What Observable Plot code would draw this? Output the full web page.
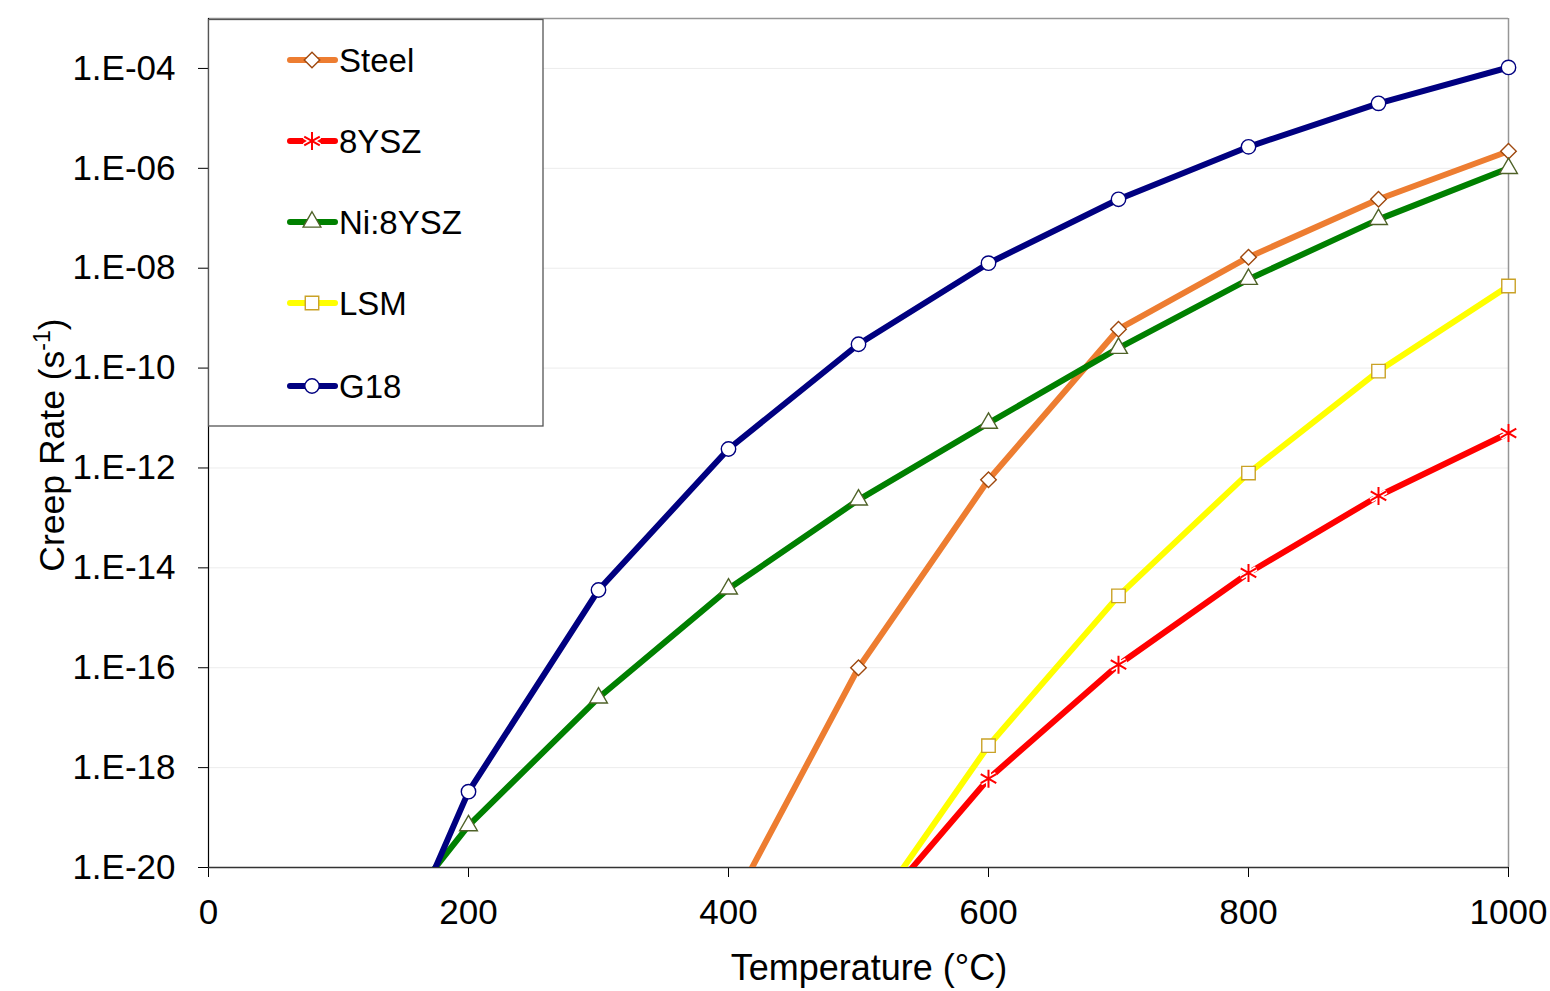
<!DOCTYPE html>
<html>
<head>
<meta charset="utf-8">
<script src="https://cdn.jsdelivr.net/npm/d3@7"></script>
<script src="https://cdn.jsdelivr.net/npm/@observablehq/plot@0.6"></script>
<style>
  html, body { margin: 0; padding: 0; background: #fff; }
  #chart { position: relative; width: 1550px; height: 991px; overflow: hidden; }
</style>
</head>
<body>
<div id="chart"></div>
<script>
// ---- data ----
const temperatures = [100, 200, 300, 400, 500, 600, 700, 800, 900, 1000];
const steel   = [null, null, null, 1.3e-21, 1.0e-16, 5.8e-13, 6.0e-10, 1.66e-8, 2.4e-7, 2.2e-6];
const ysz8    = [null, null, null, null, 5.5e-22, 6.0e-19, 1.15e-16, 7.9e-15, 2.75e-13, 5.0e-12];
const niYsz8  = [3.5e-23, 6.9e-20, 2.5e-17, 3.8e-15, 2.3e-13, 7.9e-12, 2.5e-10, 6.0e-9, 9.5e-8, 1.0e-6];
const lsm     = [null, null, null, null, 5.1e-22, 2.75e-18, 2.75e-15, 7.9e-13, 8.7e-11, 4.4e-9];
const g18     = [3.5e-25, 3.3e-19, 3.6e-15, 2.4e-12, 3.0e-10, 1.26e-8, 2.4e-7, 2.7e-6, 2.0e-5, 1.05e-4];

const seriesNames = ["Steel", "8YSZ", "Ni:8YSZ", "LSM", "G18"];
const xTicks = [0, 200, 400, 600, 800, 1000];
const yTicks = [1e-20, 1e-18, 1e-16, 1e-14, 1e-12, 1e-10, 1e-8, 1e-6, 1e-4];

const styles = {
  "Steel":   {line: "#ED7D31", symbol: "square",   rotate: 45, r: 6.2, fill: "#fff", stroke: "#9E480E"},
  "8YSZ":    {line: "#FF0000", symbol: "asterisk", rotate: 0,  r: 8.5, fill: "none", stroke: "#FF0000"},
  "Ni:8YSZ": {line: "#008000", symbol: "triangle", rotate: 0,  r: 6.6, fill: "#fff", stroke: "#4F6228"},
  "LSM":     {line: "#FFFF00", symbol: "square",   rotate: 0,  r: 7.6, fill: "#fff", stroke: "#C9A227"},
  "G18":     {line: "#000080", symbol: "circle",   rotate: 0,  r: 7.2, fill: "#fff", stroke: "#000080"}
};

const valuesBySeries = {"Steel": steel, "8YSZ": ysz8, "Ni:8YSZ": niYsz8, "LSM": lsm, "G18": g18};
const rows = [];
for (const s of seriesNames) {
  valuesBySeries[s].forEach((v, i) => rows.push({series: s, t: temperatures[i], v}));
}

const yMin = 1e-20, yMax = 1e-3;
const fmtY = d => "1.E-" + String(Math.round(-Math.log10(d))).padStart(2, "0");

const lineMarks = seriesNames.map(s =>
  Plot.line(rows.filter(d => d.series === s && d.v != null), {
    x: "t", y: "v", stroke: styles[s].line, strokeWidth: 6,
    strokeLinejoin: "round", clip: true
  })
);
const dotMarks = [];
for (const s of seriesNames) {
  const st = styles[s];
  const data = rows.filter(d => d.series === s && d.v != null && d.v >= yMin && d.v <= yMax);
  if (st.symbol === "asterisk") {
    dotMarks.push(Plot.dot(data, {x: "t", y: "v", symbol: "asterisk", r: st.r, stroke: "#fff", strokeWidth: 5, fill: "none"}));
    dotMarks.push(Plot.dot(data, {x: "t", y: "v", symbol: "asterisk", r: st.r, stroke: st.stroke, strokeWidth: 2, fill: "none"}));
  } else {
    dotMarks.push(Plot.dot(data, {x: "t", y: "v", symbol: st.symbol, rotate: st.rotate, r: st.r,
      fill: st.fill, stroke: st.stroke, strokeWidth: 1.4}));
  }
}

const plot = Plot.plot({
  width: 1550,
  height: 991,
  marginLeft: 208,
  marginRight: 42,
  marginTop: 18,
  marginBottom: 124,
  style: {fontFamily: "'Liberation Sans', Arial, sans-serif", fontSize: "35px", color: "#000", background: "#fff"},
  x: {domain: [0, 1000]},
  y: {type: "log", domain: [yMin, yMax]},
  marks: [
    Plot.ruleY(yTicks.slice(1), {stroke: "#ececec", strokeWidth: 1}),
    Plot.ruleY([yMax], {stroke: "#969696", strokeWidth: 1.5}),
    Plot.ruleX([1000], {stroke: "#969696", strokeWidth: 1.5}),
    Plot.axisY({ticks: yTicks, tickFormat: fmtY, tickSize: 10, tickPadding: 23, label: null, fontSize: 35, stroke: "#000"}),
    Plot.axisX({ticks: xTicks, tickFormat: d => String(d), tickSize: 10, tickPadding: 22, label: null, fontSize: 35, stroke: "#000"}),
    Plot.ruleX([0], {stroke: "#000", strokeWidth: 1.2}),
    Plot.ruleY([yMin], {stroke: "#333", strokeWidth: 1.5}),
    ...lineMarks,
    ...dotMarks
  ]
});

document.getElementById("chart").appendChild(plot);

// ---- axis titles and legend ----
const svg = d3.select(plot);
const font = "'Liberation Sans', Arial, sans-serif";

svg.append("text")
  .attr("x", 869).attr("y", 980)
  .attr("text-anchor", "middle")
  .attr("font-family", font).attr("font-size", 36).attr("fill", "#000")
  .text("Temperature (°C)");

const yt = svg.append("text")
  .attr("transform", "translate(64,445) rotate(-90)")
  .attr("text-anchor", "middle")
  .attr("font-family", font).attr("font-size", 35.5).attr("fill", "#000");
yt.append("tspan").text("Creep Rate (s");
yt.append("tspan").attr("font-size", 23).attr("dy", -14).text("-1");
yt.append("tspan").attr("dy", 14).text(")");

const lg = svg.append("g");
lg.append("rect")
  .attr("x", 208.5).attr("y", 19.5).attr("width", 334.5).attr("height", 406.5)
  .attr("fill", "#fff").attr("stroke", "#555").attr("stroke-width", 1.3);

const legendY = [60, 141, 222, 303, 386];
const symbolMap = {square: d3.symbolSquare, asterisk: d3.symbolAsterisk, triangle: d3.symbolTriangle, circle: d3.symbolCircle};
seriesNames.forEach((s, i) => {
  const st = styles[s];
  const y = legendY[i];
  const g = lg.append("g");
  g.append("line").attr("x1", 290).attr("x2", 335).attr("y1", y).attr("y2", y)
    .attr("stroke", st.line).attr("stroke-width", 6).attr("stroke-linecap", "round");
  const path = d3.symbol(symbolMap[st.symbol], st.r * st.r * Math.PI)();
  if (st.symbol === "asterisk") {
    g.append("path").attr("d", path).attr("transform", `translate(312,${y})`)
      .attr("fill", "none").attr("stroke", "#fff").attr("stroke-width", 5);
    g.append("path").attr("d", path).attr("transform", `translate(312,${y})`)
      .attr("fill", "none").attr("stroke", st.stroke).attr("stroke-width", 2);
  } else {
    g.append("path").attr("d", path).attr("transform", `translate(312,${y}) rotate(${st.rotate})`)
      .attr("fill", st.fill).attr("stroke", st.stroke).attr("stroke-width", 1.4);
  }
  g.append("text").attr("x", 339).attr("y", y).attr("dy", "0.35em")
    .attr("text-anchor", "start")
    .attr("font-family", font).attr("font-size", 33).attr("fill", "#000")
    .text(s);
});
</script>
</body>
</html>
